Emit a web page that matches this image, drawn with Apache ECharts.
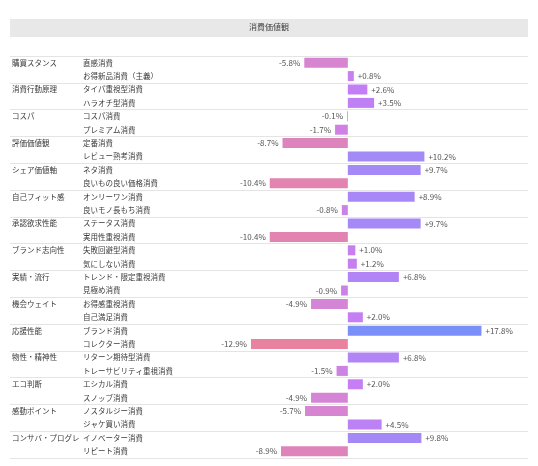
<!DOCTYPE html>
<html>
<head>
<meta charset="utf-8">
<script src="https://cdn.jsdelivr.net/npm/echarts@6/dist/echarts.min.js"></script>
<style>
html,body{margin:0;padding:0;background:#fff;}
#chart{width:538px;height:466px;}
</style>
</head>
<body>
<div id="chart"></div>
<script>
const titleText = '消費価値観';
const groups = ['購買スタンス','消費行動原理','コスパ','評価価値観','シェア価値軸','自己フィット感','承認欲求性能','ブランド志向性','実績・流行','機会ウェイト','応援性能','物性・精神性','エコ判断','感動ポイント','コンサバ・プログレ'];
const categories = ['直感消費','お得新品消費（主義）','タイパ重視型消費','ハラオチ型消費','コスパ消費','プレミアム消費','定番消費','レビュー熟考消費','ネタ消費','良いもの良い価格消費','オンリーワン消費','良いモノ長もち消費','ステータス消費','実用性重視消費','失敗回避型消費','気にしない消費','トレンド・限定重視消費','見極め消費','お得感重視消費','自己満足消費','ブランド消費','コレクター消費','リターン期待型消費','トレーサビリティ重視消費','エシカル消費','スノッブ消費','ノスタルジー消費','ジャケ買い消費','イノベーター消費','リピート消費'];
const values = [-5.8,0.8,2.6,3.5,-0.1,-1.7,-8.7,10.2,9.7,-10.4,8.9,-0.8,9.7,-10.4,1.0,1.2,6.8,-0.9,-4.9,2.0,17.8,-12.9,6.8,-1.5,2.0,-4.9,-5.7,4.5,9.8,-8.9];

const FONT = '"Noto Sans CJK JP", "Noto Sans", sans-serif';
const chart = echarts.init(document.getElementById('chart'), null, {renderer:'canvas'});

const seriesData = values.map(v => ({
  value: v,
  label: { position: v >= 0 ? 'right' : 'left' }
}));

chart.setOption({
  backgroundColor: '#fff',
  animation: false,
  title: {
    text: titleText,
    left: 'center',
    top: 23,
    padding: 0,
    textStyle: { fontSize: 8, fontWeight: 'normal', color: '#444', fontFamily: FONT }
  },
  graphic: [{
    type: 'rect',
    z: -10,
    shape: { x: 10, y: 19, width: 518, height: 18 },
    style: { fill: '#e8e8e8' }
  }],
  grid: { left: 10, right: 10, top: 56, bottom: 8 },
  visualMap: {
    show: false,
    type: 'continuous',
    dimension: 0,
    min: -12.9,
    max: 17.8,
    inRange: { color: ['#e8829f', '#d685d4', '#c47ef5', '#a38af6', '#7a8ff8'] }
  },
  xAxis: {
    type: 'value',
    min: -45,
    max: 24,
    show: false,
    splitLine: { show: false }
  },
  yAxis: {
    type: 'category',
    inverse: true,
    data: categories,
    axisLine: { show: false },
    axisTick: { show: false },
    splitLine: {
      show: true,
      interval: function (index) { return index % 2 === 0; },
      lineStyle: { color: '#e4e4e4', width: 1 }
    },
    axisLabel: {
      inside: true,
      margin: 2,
      interval: 0,
      fontFamily: FONT,
      formatter: function (value, index) {
        const g = index % 2 === 0 ? groups[index / 2] : '';
        return '{g|' + g + '}{s|' + value + '}';
      },
      rich: {
        g: { width: 71, fontSize: 7.5, color: '#3a3a3a', fontFamily: FONT },
        s: { fontSize: 7.5, color: '#3a3a3a', fontFamily: FONT }
      }
    }
  },
  series: [{
    type: 'bar',
    data: seriesData,
    barWidth: 10,
    label: {
      show: true,
      distance: 4,
      fontSize: 8,
      color: '#555',
      fontFamily: FONT,
      formatter: function (p) {
        const v = p.value;
        return (v > 0 ? '+' : '') + v.toFixed(1) + '%';
      }
    }
  }]
});
</script>
</body>
</html>
